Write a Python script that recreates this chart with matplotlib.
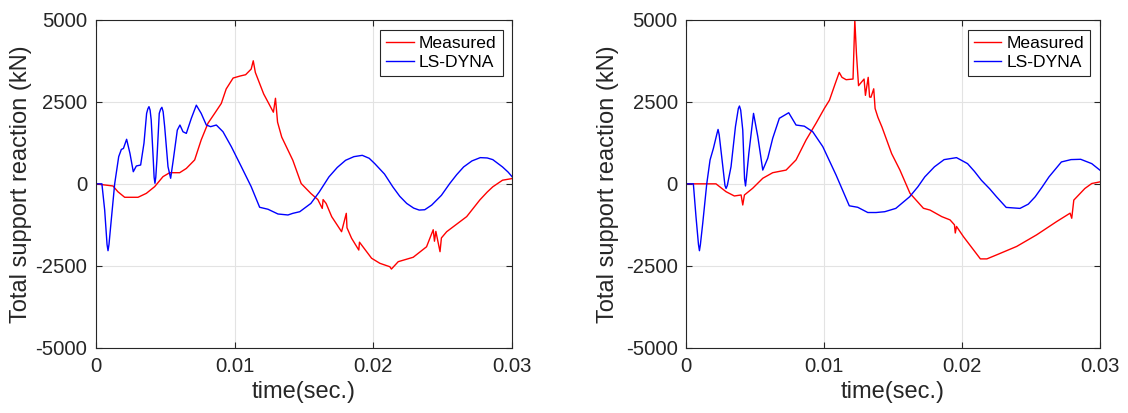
#!/usr/bin/env python3

import matplotlib.pyplot as plt

plt.rcParams.update({
    'font.family': ['Liberation Sans', 'DejaVu Sans'],
    'font.size': 14.6,
    'axes.linewidth': 0.8,
    'axes.unicode_minus': False,
    'xtick.direction': 'in',
    'ytick.direction': 'in',
    'xtick.major.size': 4,
    'ytick.major.size': 4,
    'xtick.color': '#262626',
    'ytick.color': '#262626',
    'axes.labelcolor': '#262626',
})

# left panel, measured (red)
t_meas_a = [0, 0.00125, 0.0016, 0.00209, 0.00305, 0.00365, 0.00425, 0.00485, 0.00533,
            0.00605, 0.00653, 0.00713, 0.0076, 0.00809, 0.00857, 0.00905, 0.0094,
            0.0099, 0.0104, 0.0108, 0.0112, 0.01135, 0.0115, 0.0121, 0.0128, 0.01295,
            0.0131, 0.0134, 0.0142, 0.0148, 0.0155, 0.0160, 0.01632, 0.01638, 0.0166,
            0.017, 0.01771, 0.01805, 0.0181, 0.01843, 0.01895, 0.019, 0.01987, 0.02047,
            0.02119, 0.0213, 0.02179, 0.02287, 0.02383, 0.02431, 0.0244, 0.0245, 0.0248,
            0.0249, 0.02528, 0.02672, 0.02767, 0.0282, 0.0286, 0.0293, 0.03]
v_meas_a = [0, -65, -240, -410, -410, -290, -85, 220, 340,
            340, 470, 730, 1340, 1850, 2150, 2455, 2895,
            3229, 3290, 3330, 3502, 3755, 3400, 2743, 2186, 2611,
            1883, 1427, 719, 10, -294, -480, -750, -480, -600,
            -1002, -1460, -900, -1340, -1660, -2020, -1780, -2270, -2425,
            -2530, -2600, -2375, -2240, -1920, -1400, -1750, -1450, -2070,
            -1650, -1460, -1000, -490, -250, -91, 111, 162]

# left panel, LS-DYNA (blue)
t_dyna_a = [0, 0.00045, 0.00065, 0.00082, 0.00089, 0.00096, 0.00108, 0.00137, 0.00166,
            0.00185, 0.002, 0.00223, 0.00247, 0.00271, 0.00293, 0.00324, 0.00348,
            0.00367, 0.00376, 0.00384, 0.00392, 0.004, 0.00415, 0.00421, 0.00427,
            0.00433, 0.00441, 0.00458, 0.00468, 0.00477, 0.00486, 0.00497, 0.00521,
            0.0054, 0.00559, 0.00588, 0.00607, 0.00629, 0.00653, 0.00689, 0.00725,
            0.0076, 0.00797, 0.00828, 0.00869, 0.00917, 0.00977, 0.01049, 0.0112,
            0.01181, 0.01241, 0.01313, 0.01385, 0.0142, 0.0147, 0.0155, 0.0161,
            0.0168, 0.0174, 0.018, 0.0186, 0.0192, 0.0197, 0.0201, 0.0208, 0.0214,
            0.0219, 0.0224, 0.0229, 0.0233, 0.0237, 0.0242, 0.0249, 0.0255, 0.026,
            0.0265, 0.0271, 0.0277, 0.0282, 0.0286, 0.0293, 0.0297, 0.03]
v_dyna_a = [0, 0, -800, -1850, -2040, -1850, -1300, 0, 830,
            1050, 1080, 1360, 930, 370, 545, 575, 1240,
            2150, 2290, 2355, 2250, 1950, 730, 200, 17,
            200, 730, 2150, 2280, 2335, 2200, 1745, 525,
            170, 730, 1640, 1795, 1590, 1540, 2000, 2400,
            2150, 1795, 1745, 1795, 1590, 1135, 525, -85,
            -715, -775, -920, -950, -900, -850, -597, -250,
            212, 500, 719, 830, 870, 780, 617, 300, -91,
            -380, -597, -740, -800, -790, -648, -350, 10, 280,
            516, 700, 800, 790, 739, 516, 360, 212]

# right panel, measured (red)
t_meas_b = [0, 0.00217, 0.0029, 0.0035, 0.00399, 0.00411, 0.00423, 0.00483, 0.00556,
            0.00628, 0.00725, 0.00797, 0.0087, 0.00942, 0.01002, 0.01039, 0.0108,
            0.0111, 0.0113, 0.0116, 0.0121, 0.01223, 0.01235, 0.0125, 0.0129, 0.013,
            0.0132, 0.0133, 0.0134, 0.0136, 0.0137, 0.0139, 0.0142, 0.0149, 0.0155,
            0.01623, 0.0172, 0.01768, 0.01853, 0.01913, 0.01945, 0.01951, 0.0196,
            0.0201, 0.02133, 0.0218, 0.02252, 0.02396, 0.02541, 0.02686, 0.02783,
            0.02795, 0.0281, 0.0289, 0.0294, 0.03]
v_meas_b = [0, 0, -240, -370, -340, -645, -340, -135, 170,
            340, 420, 730, 1340, 1850, 2300, 2550, 3046,
            3400, 3250, 3178, 3198, 5000, 3957, 2996, 3198, 2700,
            3250, 2650, 2642, 2900, 2300, 2034, 1731, 921, 420,
            -290, -745, -800, -1000, -1100, -1250, -1500, -1300,
            -1610, -2290, -2290, -2165, -1910, -1555, -1150, -895,
            -1050, -496, -142, 10, 61]

# right panel, LS-DYNA (blue)
t_dyna_b = [0, 0.00053, 0.00072, 0.0009, 0.00097, 0.00104, 0.00121, 0.0015, 0.00174,
            0.00198, 0.00225, 0.00232, 0.0024, 0.00261, 0.00282, 0.0029, 0.00299,
            0.00326, 0.00358, 0.00379, 0.00387, 0.00396, 0.00411, 0.00424, 0.00431,
            0.00438, 0.00455, 0.00489, 0.0052, 0.00556, 0.00592, 0.00628, 0.00676,
            0.00744, 0.00797, 0.00857, 0.00918, 0.00991, 0.01087, 0.01183, 0.01244,
            0.01317, 0.01377, 0.0144, 0.0152, 0.0162, 0.0168, 0.0173, 0.018, 0.0187,
            0.0196, 0.0204, 0.0209, 0.0214, 0.0220, 0.0225, 0.0232, 0.0242, 0.0248,
            0.0253, 0.0258, 0.0263, 0.0272, 0.0279, 0.0286, 0.0294, 0.03]
v_dyna_b = [0, 0, -1000, -1850, -2040, -1850, -1200, 0, 730,
            1080, 1550, 1660, 1500, 730, -50, -140, -50,
            525, 1745, 2300, 2375, 2250, 1640, 150, -65,
            200, 930, 2150, 1440, 420, 780, 1390, 2000,
            2170, 1795, 1760, 1590, 1135, 270, -670, -715,
            -875, -875, -850, -749, -395, -90, 212, 520, 739,
            800, 617, 380, 111, -150, -395, -719, -749, -620,
            -395, -100, 212, 668, 740, 749, 617, 415]

xticks = [0, 0.01, 0.02, 0.03]
xticklabels = ['0', '0.01', '0.02', '0.03']
yticks = [-5000, -2500, 0, 2500, 5000]

fig = plt.figure(figsize=(11.28, 4.13), dpi=100)
ax1 = fig.add_axes([0.0848, 0.1581, 0.3693, 0.7935])
ax2 = fig.add_axes([0.6082, 0.1581, 0.367, 0.7935])

panels = [(ax1, t_meas_a, v_meas_a, t_dyna_a, v_dyna_a, -0.153),
          (ax2, t_meas_b, v_meas_b, t_dyna_b, v_dyna_b, -0.161)]

for ax, tm, vm, td, vd, ylab_x in panels:
    ax.plot(tm, vm, color='#ff0000', linewidth=1.0, label='Measured')
    ax.plot(td, vd, color='#0000ff', linewidth=1.0, label='LS-DYNA')
    ax.set_xlim(0, 0.03)
    ax.set_ylim(-5000, 5000)
    ax.set_xticks(xticks)
    ax.set_xticklabels(xticklabels)
    ax.set_yticks(yticks)
    ax.grid(True, color='#e3e3e3', linewidth=0.8)
    ax.set_axisbelow(True)
    ax.tick_params(top=True, right=True, labelsize=14.6)
    ax.tick_params(axis='x', pad=6.5)
    ax.tick_params(axis='y', pad=6)
    ax.set_xlabel('time(sec.)', fontsize=17, labelpad=4)
    ax.set_ylabel('Total support reaction (kN)', fontsize=17)
    ax.yaxis.set_label_coords(ylab_x, 0.5)
    for s in ax.spines.values():
        s.set_color('#262626')
    leg = ax.legend(loc='upper right', fontsize=12.6, fancybox=False,
                    edgecolor='#262626', framealpha=1, handlelength=1.55,
                    handletextpad=0.3, borderpad=0.35, labelspacing=0.2,
                    borderaxespad=0.55)
    leg.get_frame().set_linewidth(0.8)

fig.savefig('out.png', dpi=100)
